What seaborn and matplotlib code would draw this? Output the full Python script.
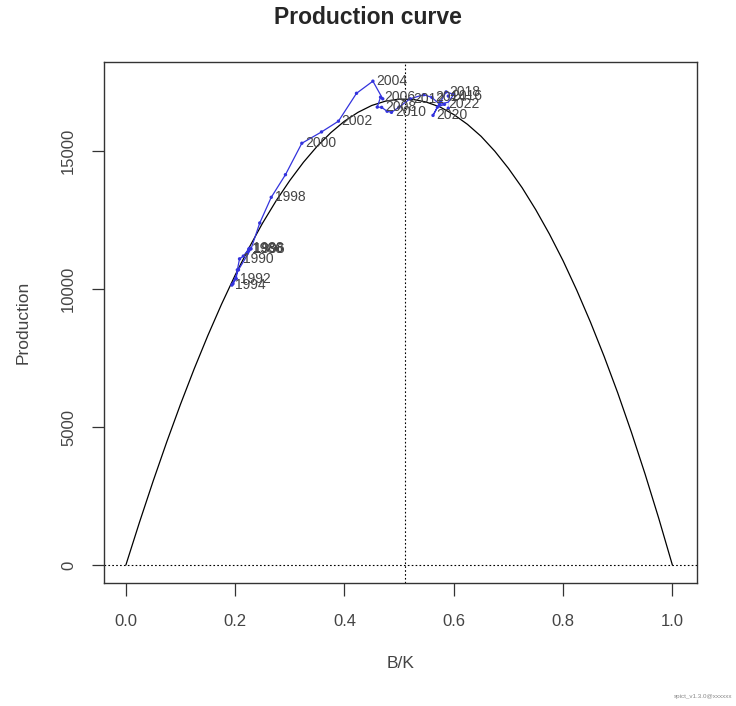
import numpy as np
import pandas as pd
import matplotlib
matplotlib.use("Agg")
import matplotlib.pyplot as plt
import seaborn as sns

# production curve (B/K, production)
curve_bk = [0.0, 0.025, 0.05, 0.075, 0.1, 0.125, 0.15, 0.175, 0.2, 0.225, 0.25,
            0.275, 0.3, 0.325, 0.35, 0.375, 0.4, 0.425, 0.45, 0.475, 0.5, 0.525,
            0.55, 0.575, 0.6, 0.625, 0.65, 0.675, 0.7, 0.725, 0.75, 0.775, 0.8,
            0.825, 0.85, 0.875, 0.9, 0.925, 0.95, 0.975, 1.0]
curve_prod = [0, 1556, 3049, 4474, 5830, 7112, 8320, 9453, 10510, 11487, 12390,
              13206, 13940, 14602, 15180, 15673, 16090, 16413, 16660, 16816, 16890, 16881,
              16780, 16602, 16330, 15976, 15540, 15003, 14380, 13679, 12880, 11998, 11030,
              9963, 8810, 7569, 6240, 4814, 3300, 1696, 0]

# estimated trajectory
years = list(range(1986, 2024))
traj_bk = [0.225, 0.222, 0.226, 0.215, 0.208, 0.204, 0.202, 0.196, 0.194, 0.206,
           0.229, 0.245, 0.266, 0.292, 0.322, 0.358, 0.389, 0.422, 0.452, 0.47,
           0.466, 0.46, 0.468, 0.478, 0.486, 0.5, 0.52, 0.545, 0.56, 0.574,
           0.59, 0.6, 0.586, 0.576, 0.562, 0.57, 0.583, 0.59]
traj_prod = [11450, 11300, 11480, 11200, 11100, 10700, 10380, 10200, 10150, 10700,
             11460, 12400, 13330, 14150, 15290, 15700, 16090, 17100, 17540, 16900,
             16960, 16600, 16590, 16450, 16410, 16600, 16900, 17050, 16950, 16700,
             17000, 17060, 17150, 16800, 16300, 16600, 16700, 16560]
bmsy_k = 0.51

curve = pd.DataFrame({"bk": curve_bk, "prod": curve_prod})
traj = pd.DataFrame({"year": years, "bk": traj_bk, "prod": traj_prod})

sns.set_style("ticks")
plt.rcParams["font.family"] = ["Liberation Sans", "DejaVu Sans"]

fig = plt.figure(figsize=(7.36, 7.06), dpi=100)
ax = fig.add_axes([0.1413, 0.1742, 0.8057, 0.7378])

sns.lineplot(data=curve, x="bk", y="prod", ax=ax, color="black", lw=0.9, sort=False)
sns.lineplot(data=traj, x="bk", y="prod", ax=ax, color="#3333dd", lw=0.9, sort=False)
sns.scatterplot(data=traj, x="bk", y="prod", ax=ax, color="#3333dd", s=6,
                edgecolor="none", zorder=3)

for yr, b, p in zip(years, traj_bk, traj_prod):
    if yr % 2 == 0:
        ax.text(b + 0.006, p, str(yr), fontsize=10, color="#444444",
                va="center", ha="left")

ax.axhline(0, color="black", ls=(0, (1.5, 2)), lw=0.8)
ax.axvline(bmsy_k, color="black", ls=(0, (1.5, 2)), lw=0.8)

ax.set_xlim(-0.04, 1.045)
ax.set_ylim(-650, 18230)
ax.set_xticks([0.0, 0.2, 0.4, 0.6, 0.8, 1.0])
ax.set_xticklabels(["0.0", "0.2", "0.4", "0.6", "0.8", "1.0"])
ax.set_yticks([0, 5000, 10000, 15000])
ax.set_yticklabels(["0", "5000", "10000", "15000"], rotation=90, va="center")
ax.tick_params(axis="both", labelsize=12, length=9, width=0.9, color="#333333",
               labelcolor="#444444")
ax.tick_params(axis="x", pad=13)
ax.tick_params(axis="y", pad=11)
for s in ax.spines.values():
    s.set_visible(True)
    s.set_color("#333333")
    s.set_linewidth(1.0)

ax.set_xlabel("B/K", fontsize=12.5, color="#444444", labelpad=20)
ax.set_ylabel("Production", fontsize=12.5, color="#444444", labelpad=22)
fig.text(0.5, 0.975, "Production curve", ha="center", va="center",
         fontsize=16.5, fontweight="bold")
fig.text(0.995, 0.01, "spict_v1.3.0@xxxxxx", ha="right", va="bottom",
         fontsize=4.5, color="#888888")

fig.savefig("out.png", dpi=100)
